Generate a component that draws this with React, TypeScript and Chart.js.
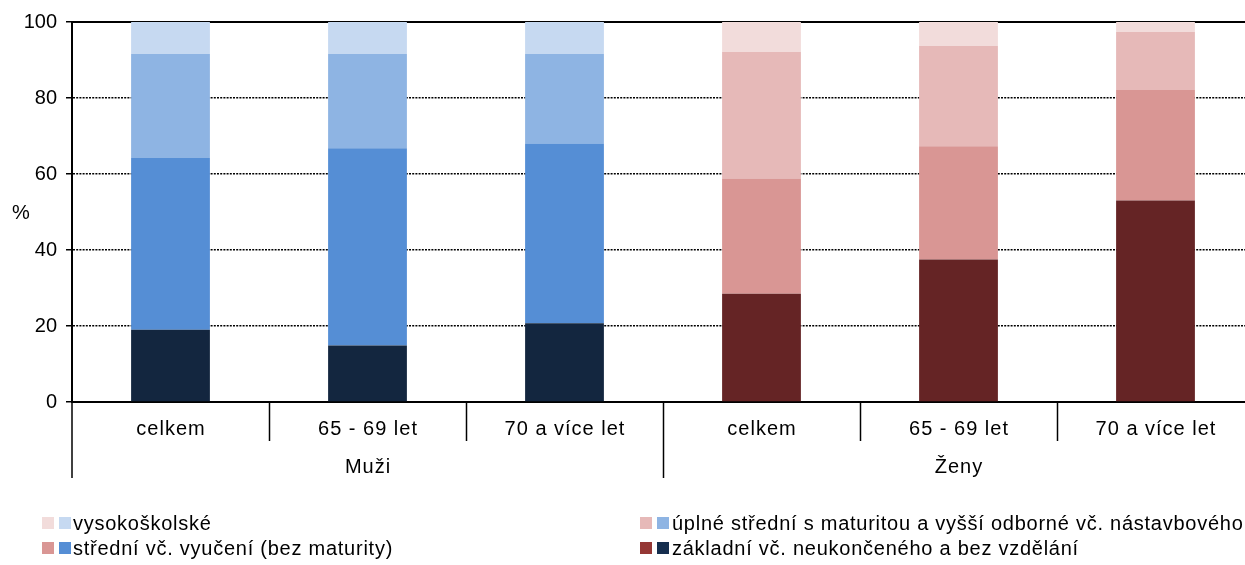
import React, { useEffect, useRef } from "react";
import { Chart, registerables } from "chart.js";

Chart.register(...registerables);

// ---- data ----
const categories = ["celkem", "65 - 69 let", "70 a více let", "celkem", "65 - 69 let", "70 a více let"];
const groups = ["Muži", "Ženy"];
const groupSizes = [3, 3];
const seriesNames = [
  "základní vč. neukončeného a bez vzdělání",
  "střední vč. vyučení (bez maturity)",
  "úplné střední s maturitou a vyšší odborné vč. nástavbového",
  "vysokoškolské",
];
const zakladni = [19.0, 14.9, 20.7, 28.5, 37.5, 53.0];
const stredniVyuceni = [45.2, 51.9, 47.3, 30.3, 29.8, 29.1];
const uplneStredni = [27.4, 24.8, 23.6, 33.3, 26.4, 15.3];
const vysokoskolske = [8.4, 8.4, 8.4, 7.9, 6.3, 2.6];
const yTicks = [0, 20, 40, 60, 80, 100];
const yTitle = "%";

// ---- styles ----
const menColors = ["#13263F", "#558ED5", "#8EB4E3", "#C6D9F1"];
const womenColors = ["#652425", "#D99694", "#E6B9B8", "#F2DCDB"];
const legendMenColors = ["#152E4E", "#558ED5", "#8EB4E3", "#C6D9F1"];
const legendWomenColors = ["#953735", "#D99694", "#E6B9B8", "#F2DCDB"];
const FONT = "'Liberation Sans', Arial, sans-serif";
const W = 1245;
const H = 565;
const AREA_LEFT = 72;
const AREA_TOP = 22;
const AREA_BOTTOM = 402;
const CAT_WIDTH = 197;

const seriesValues = [zakladni, stredniVyuceni, uplneStredni, vysokoskolske];

const decorPlugin = {
  id: "decor",
  beforeDatasetsDraw(chart: any) {
    const { ctx, chartArea } = chart;
    ctx.save();
    ctx.strokeStyle = "#000";
    ctx.lineWidth = 2;
    ctx.beginPath();
    ctx.moveTo(chartArea.left, chartArea.top);
    ctx.lineTo(chartArea.right, chartArea.top);
    ctx.stroke();
    ctx.restore();
  },
  afterDraw(chart: any) {
    const { ctx, chartArea } = chart;
    const xs = chart.scales.x;
    const ys = chart.scales.y;
    const bottom = chartArea.bottom;
    ctx.save();
    ctx.strokeStyle = "#000";
    ctx.lineWidth = 1.5;
    // dividers
    const groupStarts: number[] = [];
    let acc = 0;
    groupSizes.forEach((s) => {
      groupStarts.push(acc);
      acc += s;
    });
    for (let i = 0; i < categories.length; i++) {
      const bx = Math.round(xs.getPixelForValue(i - 0.5)) + (i === 0 ? 0 : 0.5);
      const long = groupStarts.includes(i);
      ctx.beginPath();
      ctx.moveTo(bx, bottom);
      ctx.lineTo(bx, long ? 478 : 441);
      ctx.stroke();
    }
    // category labels
    ctx.fillStyle = "#000";
    ctx.font = `20px ${FONT}`;
    ctx.textAlign = "center";
    ctx.textBaseline = "middle";
    (ctx as any).letterSpacing = "1px";
    categories.forEach((c, i) => {
      ctx.fillText(c, xs.getPixelForValue(i) + 0.5, 429);
    });
    // group labels
    groups.forEach((g, gi) => {
      const start = groupStarts[gi];
      const mid = start + (groupSizes[gi] - 1) / 2;
      ctx.fillText(g, xs.getPixelForValue(mid) + 0.5, 467);
    });
    (ctx as any).letterSpacing = "0px";
    // y title
    ctx.fillText(yTitle, 21, ys.getPixelForValue(50) + 1);

    // legend
    const rows = [523, 548];
    const cols = [{ s1: 42, s2: 59, t: 73 }, { s1: 640, s2: 657, t: 672 }];
    const layout = [
      { idx: 3, col: 0, row: 0 },
      { idx: 2, col: 1, row: 0 },
      { idx: 1, col: 0, row: 1 },
      { idx: 0, col: 1, row: 1 },
    ];
    ctx.textAlign = "left";
    (ctx as any).letterSpacing = "0.75px";
    layout.forEach(({ idx, col, row }) => {
      const c = cols[col];
      const cy = rows[row];
      ctx.fillStyle = legendWomenColors[idx];
      ctx.fillRect(c.s1, cy - 6, 12, 12);
      ctx.fillStyle = legendMenColors[idx];
      ctx.fillRect(c.s2, cy - 6, 12, 12);
      ctx.fillStyle = "#000";
      ctx.fillText(seriesNames[idx], c.t, cy + 1);
    });
    ctx.restore();
  },
};

export default function App() {
  const ref = useRef<HTMLCanvasElement | null>(null);

  useEffect(() => {
    if (!ref.current) return;
    const datasets = seriesValues.map((vals, si) => ({
      label: seriesNames[si],
      data: vals.map((v, i) => ({ x: i, y: v })),
      backgroundColor: vals.map((_, i) => (i < groupSizes[0] ? menColors[si] : womenColors[si])),
      borderWidth: 0,
      barPercentage: 0.4,
      categoryPercentage: 1,
    }));
    const chart = new Chart(ref.current, {
      type: "bar",
      data: { datasets },
      options: {
        animation: false,
        responsive: false,
        maintainAspectRatio: false,
        layout: { padding: { left: 0, right: 0, top: AREA_TOP, bottom: H - AREA_BOTTOM } },
        plugins: { legend: { display: false }, tooltip: { enabled: false } },
        scales: {
          x: {
            type: "linear",
            stacked: true,
            offset: false,
            min: -0.5,
            max: -0.5 + (W - AREA_LEFT) / CAT_WIDTH,
            afterBuildTicks: (s: any) => {
              s.ticks = categories.map((_, i) => ({ value: i }));
            },
            ticks: { display: false },
            grid: { display: false },
            border: { display: true, color: "#000", width: 2 },
            afterFit: (s: any) => {
              s.height = 0;
            },
          },
          y: {
            stacked: true,
            min: 0,
            max: 100,
            afterBuildTicks: (s: any) => {
              s.ticks = yTicks.map((v) => ({ value: v }));
            },
            ticks: {
              color: "#000",
              font: { family: FONT, size: 20 },
              padding: 9,
            },
            grid: {
              color: "#000",
              lineWidth: 1.5,
              tickLength: 6,
              tickColor: "#000",
              tickWidth: 1.5,
            },
            border: { display: true, color: "#000", width: 2, dash: [2, 1.2] },
            afterFit: (s: any) => {
              s.width = AREA_LEFT;
            },
          },
        },
      },
      plugins: [decorPlugin],
    });
    return () => chart.destroy();
  }, []);

  return (
    <div style={{ position: "fixed", left: 0, top: 0, width: W, height: H, background: "#fff" }}>
      <canvas ref={ref} width={W} height={H} style={{ display: "block" }} />
    </div>
  );
}
